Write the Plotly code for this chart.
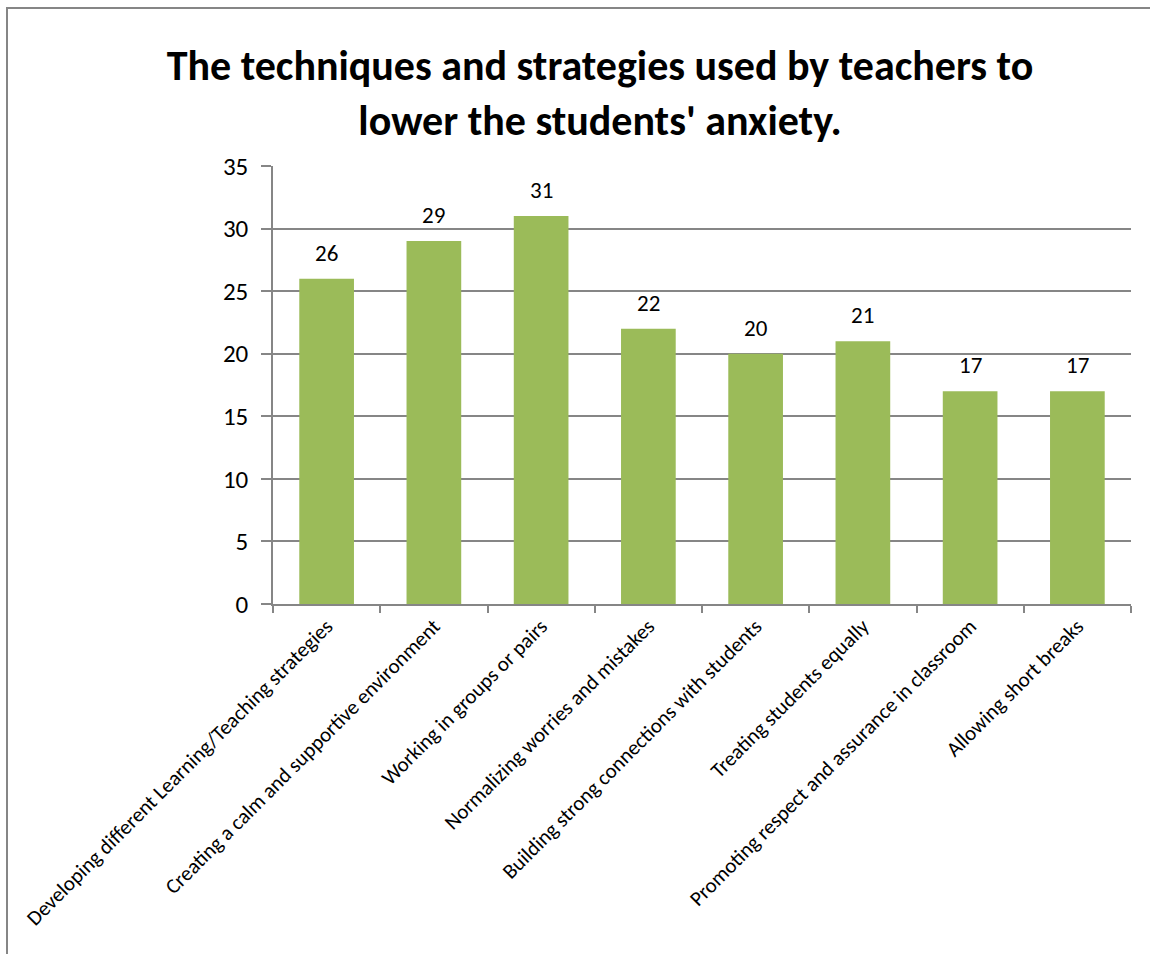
import plotly.graph_objects as go

categories = [
    "Developing different Learning/Teaching strategies",
    "Creating a calm and supportive environment",
    "Working in groups or pairs",
    "Normalizing worries and mistakes",
    "Building strong connections with students",
    "Treating students equally",
    "Promoting respect and assurance in classroom",
    "Allowing short breaks",
]
counts = [26, 29, 31, 22, 20, 21, 17, 17]
y_ticks = [0, 5, 10, 15, 20, 25, 30, 35]

W, H = 1150, 954
L, R, T, B = 273, 19, 166, 350
plot_w = W - L - R
plot_h = H - T - B

FONT = "Carlito, Lato, 'Open Sans', sans-serif"
GRID = "#868686"
BAR = "#9BBB59"

fig = go.Figure(
    go.Bar(
        x=categories,
        y=counts,
        marker=dict(color=BAR, line=dict(width=0)),
        hoverinfo="x+y",
    )
)

# value labels above each bar
for cat, v in zip(categories, counts):
    fig.add_annotation(
        x=cat,
        y=v,
        text=str(v),
        showarrow=False,
        yanchor="bottom",
        yshift=10,
        font=dict(family=FONT, size=23, color="#000000"),
    )

fig.update_layout(
    width=W,
    height=H,
    margin=dict(l=L, r=R, t=T, b=B, pad=0),
    paper_bgcolor="white",
    plot_bgcolor="white",
    bargap=0.49,
    showlegend=False,
    font=dict(family=FONT, color="#000000"),
    title=dict(
        text="<b>The techniques and strategies used by teachers to<br>lower the students' anxiety.</b>",
        x=600 / W,
        xanchor="center",
        xref="container",
        y=1 - 80 / H,
        yanchor="top",
        yref="container",
        font=dict(family=FONT, size=42, color="#000000"),
    ),
)

fig.update_yaxes(
    range=[0, 35],
    tickvals=y_ticks,
    ticktext=[str(v) for v in y_ticks],
    showgrid=True,
    gridcolor=GRID,
    gridwidth=1.5,
    showline=True,
    linecolor=GRID,
    linewidth=1.5,
    ticks="outside",
    ticklen=10,
    tickwidth=1.5,
    tickcolor=GRID,
    ticklabelstandoff=8,
    tickfont=dict(family=FONT, size=25, color="#000000"),
    zeroline=False,
)

fig.update_xaxes(
    tickangle=-45,
    tickson="boundaries",
    ticks="outside",
    ticklen=7,
    tickwidth=1.5,
    tickcolor=GRID,
    showline=True,
    linecolor=GRID,
    linewidth=1.5,
    showgrid=False,
    tickfont=dict(family=FONT, size=21, color="#000000"),
)

# outer chart frame
fig.add_shape(
    type="rect",
    xref="paper",
    yref="paper",
    x0=(7 - L) / plot_w,
    x1=(W + 20 - L) / plot_w,
    y0=(H - B - (H + 20)) / plot_h,
    y1=(H - B - 8) / plot_h,
    line=dict(color=GRID, width=2),
    fillcolor="rgba(0,0,0,0)",
    layer="below",
)

fig.write_html("out.html")
